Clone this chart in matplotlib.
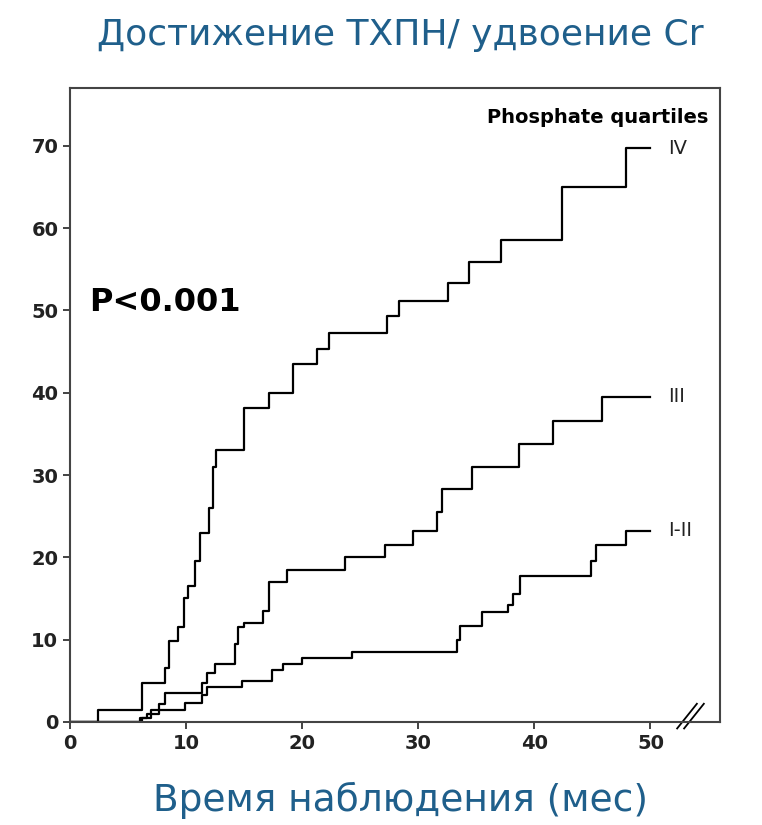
import numpy as np
import matplotlib.pyplot as plt

# step curves: (month, cumulative %)
iv_x = [0, 2.4, 6.2, 8.2, 8.5, 9.3, 9.8, 10.2, 10.8, 11.2, 12.0, 12.3, 12.6, 15.0, 17.1, 19.2, 21.3, 22.3, 27.3, 28.3, 32.6, 34.4, 37.1, 42.4, 47.9, 50]
iv_y = [0, 1.5, 4.7, 6.5, 9.8, 11.5, 15.0, 16.5, 19.5, 23.0, 26.0, 31.0, 33.0, 38.2, 40.0, 43.5, 45.3, 47.2, 49.3, 51.2, 53.3, 55.9, 58.6, 65.0, 69.7, 69.7]

iii_x = [0, 6.2, 6.6, 7.7, 8.2, 11.4, 11.8, 12.5, 14.2, 14.5, 15.0, 16.6, 17.1, 18.7, 23.7, 27.1, 29.5, 31.6, 32.0, 34.6, 38.7, 41.6, 45.8, 50]
iii_y = [0, 0.5, 1.0, 2.2, 3.5, 4.7, 6.0, 7.0, 9.5, 11.5, 12.0, 13.5, 17.0, 18.5, 20.0, 21.5, 23.2, 25.5, 28.3, 31.0, 33.8, 36.6, 39.5, 39.5]

i_ii_x = [0, 6.0, 7.0, 9.9, 11.4, 11.8, 14.8, 17.4, 18.3, 20.0, 24.3, 33.3, 33.6, 35.5, 37.7, 38.2, 38.8, 44.9, 45.3, 47.9, 50]
i_ii_y = [0, 0.5, 1.5, 2.3, 3.3, 4.2, 5.0, 6.3, 7.0, 7.8, 8.5, 10.0, 11.7, 13.3, 14.2, 15.5, 17.7, 19.5, 21.5, 23.2, 23.2]

curves = [(iv_x, iv_y, 'IV'), (iii_x, iii_y, 'III'), (i_ii_x, i_ii_y, 'I-II')]
xticks = [0, 10, 20, 30, 40, 50]
yticks = [0, 10, 20, 30, 40, 50, 60, 70]

fig = plt.figure(figsize=(7.62, 8.25), dpi=100)
ax = fig.add_axes([0.092, 0.125, 0.853, 0.768])
ax.set_xlim(0, 56)
ax.set_ylim(0, 77)

for xs, ys, lab in curves:
    ax.step(xs, ys, where='post', color='black', lw=1.6)
    ax.text(51.5, ys[-1], lab, fontsize=14, va='center', ha='left', color='#222222')

ax.set_xticks(xticks)
ax.set_yticks(yticks)
ax.tick_params(labelsize=14, width=1.2, length=5, colors='#222222')
for t in ax.get_xticklabels() + ax.get_yticklabels():
    t.set_fontweight('bold')
for s in ax.spines.values():
    s.set_linewidth(1.5)
    s.set_color('#444444')

# axis break marks
for dx in (0, 0.6):
    ax.plot([52.3 + dx, 54.0 + dx], [-0.8, 2.2], color='black', lw=1.3, clip_on=False)

ax.text(1.6, 51, 'P<0.001', fontsize=23, fontweight='bold', va='center')
ax.text(55, 73.5, 'Phosphate quartiles', fontsize=14, fontweight='bold', ha='right', va='center')

fig.text(0.525, 0.957, 'Достижение ТХПН/ удвоение Cr', fontsize=26, color='#1f5f8b',
         ha='center', va='center')
fig.text(0.525, 0.03, 'Время наблюдения (мес)', fontsize=27, color='#1f5f8b',
         ha='center', va='center')

fig.savefig('out.png', dpi=100)
